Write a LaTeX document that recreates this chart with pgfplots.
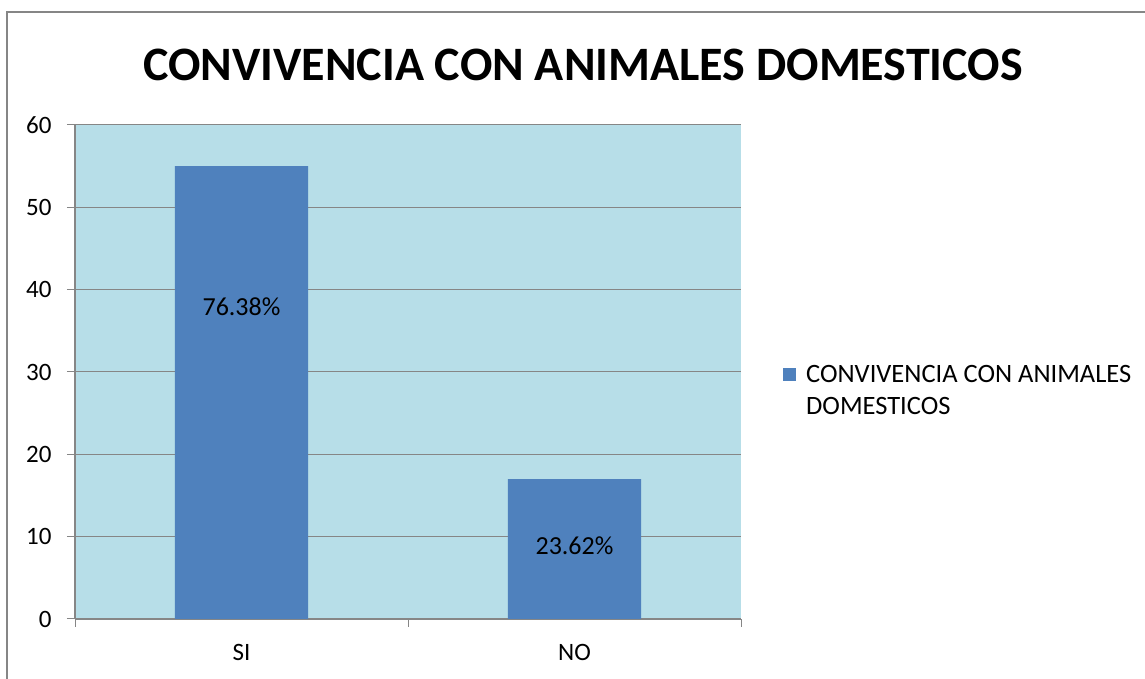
\documentclass[border=0pt]{standalone}
\usepackage{pgfplots}
\pgfplotsset{compat=1.18}
\usepackage{fontspec}
\setmainfont{Carlito}
\definecolor{barblue}{HTML}{4F81BD}
\definecolor{plotbg}{HTML}{B7DEE8}
\definecolor{gridgray}{HTML}{868686}

\begin{document}
\begin{tikzpicture}[x=1pt,y=1pt]
\useasboundingbox (0pt,0pt) rectangle (1145pt,679pt);
% chart frame (left and top edges)
\draw[gridgray, line width=1.5pt] (7pt,0pt) -- (7pt,667pt) -- (1145pt,667pt);
% title
\node[font=\fontsize{48}{56}\selectfont\bfseries] at (583pt,614pt) {CONVIVENCIA CON ANIMALES DOMESTICOS};
\begin{axis}[
  at={(75pt,60pt)}, anchor=south west,
  scale only axis, width=666pt, height=494pt,
  xmin=-0.5, xmax=1.5, ymin=0, ymax=60,
  ytick={0,10,...,60},
  xtick={0,1}, xticklabels={SI,NO},
  minor xtick={-0.5,0.5,1.5},
  major x tick style={draw=none},
  tick align=outside,
  major tick length=8pt, minor tick length=8pt,
  tick style={gridgray, line width=1pt},
  axis x line*=bottom, axis y line*=left,
  axis line style={gridgray, line width=1.2pt, -},
  ymajorgrids, major grid style={gridgray, line width=1pt},
  axis background/.style={fill=plotbg},
  ticklabel style={font=\fontsize{25}{30}\selectfont},
  /pgf/number format/assume math mode=true,
  xticklabel style={yshift=-14pt},
  yticklabel style={xshift=-12pt},
  ybar, bar width=0.4,
  legend style={at={(1.0585,0.4615)}, anchor=west, draw=none, fill=none,
    font=\fontsize{26.5}{32}\selectfont, cells={align=left}},
  legend image code/.code={\fill[barblue] (0pt,10pt) rectangle (13pt,23pt); \path (21pt,10pt);},
]
\addplot[fill=barblue, draw=none] coordinates {(0,55) (1,17)};
\addlegendentry{CONVIVENCIA CON ANIMALES\\DOMESTICOS}
\node[font=\fontsize{26}{30}\selectfont] at (axis cs:0,37.9) {76.38\%};
\node[font=\fontsize{26}{30}\selectfont] at (axis cs:1,8.87) {23.62\%};
\end{axis}
\end{tikzpicture}
\end{document}
